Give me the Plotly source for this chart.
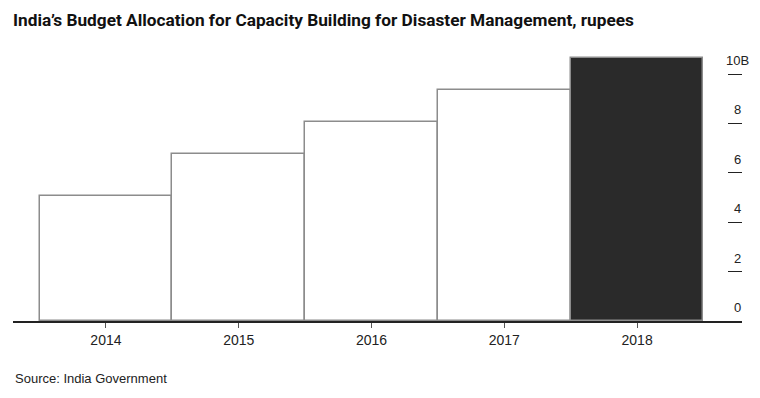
import plotly.graph_objects as go

years = ["2014", "2015", "2016", "2017", "2018"]
values = [5.07, 6.76, 8.06, 9.35, 10.66]  # billions of rupees
bar_colors = ["#ffffff", "#ffffff", "#ffffff", "#ffffff", "#2a2a2a"]
y_ticks = [0, 2, 4, 6, 8, 10]
y_tick_labels = ["0", "2", "4", "6", "8", "10B"]

title = "India’s Budget Allocation for Capacity Building for Disaster Management, rupees"
source = "Source: India Government"

# page body has an 8px margin; figure is sized/positioned to compensate
W, H = 752, 390
ML, MR, MT, MB = 5, 18, 47, 77
PH = H - MT - MB

fig = go.Figure()
fig.add_trace(go.Bar(
    x=years, y=values,
    marker=dict(color=bar_colors, line=dict(color="#8c8c8c", width=1.5)),
    hoverinfo="x+y",
))

annotations = []
for v, t in zip(y_ticks, y_tick_labels):
    annotations.append(dict(
        x=1, xref="paper", xanchor="center", xshift=-5,
        y=v, yref="y", yanchor="bottom", yshift=4,
        text=t, showarrow=False,
        font=dict(family="Liberation Sans, Arial, sans-serif", size=13, color="#222"),
    ))
annotations.append(dict(
    x=0, xref="paper", xanchor="left",
    y=-57 / PH, yref="paper", yanchor="middle",
    text=source, showarrow=False,
    font=dict(family="Liberation Sans, Arial, sans-serif", size=13, color="#222"),
))

fig.update_layout(
    width=W, height=H,
    margin=dict(l=ML, r=MR, t=MT, b=MB),
    paper_bgcolor="white", plot_bgcolor="white",
    bargap=0,
    showlegend=False,
    title=dict(
        text="<b>" + title + "</b>",
        x=5 / W, xanchor="left", xref="container",
        y=1 - 12 / H, yanchor="middle", yref="container",
        font=dict(family="Roboto, Arial, sans-serif", size=17.25, color="#111"),
    ),
    xaxis=dict(
        type="category",
        range=[-0.7, 4.79],
        showgrid=False, zeroline=False,
        showline=True, linecolor="#222", linewidth=1.5,
        ticks="outside", ticklen=5, tickcolor="#555", tickwidth=1,
        tickfont=dict(family="Liberation Sans, Arial, sans-serif", size=14, color="#222"),
        ticklabelstandoff=0,
        fixedrange=True,
    ),
    yaxis=dict(
        range=[0, 10.77],
        side="right",
        showgrid=False, zeroline=False, showline=False,
        tickvals=y_ticks[1:],
        ticks="inside", ticklen=14, tickcolor="#222", tickwidth=1.2,
        showticklabels=False,
        fixedrange=True,
    ),
    annotations=annotations,
)

fig.write_html("out.html")
